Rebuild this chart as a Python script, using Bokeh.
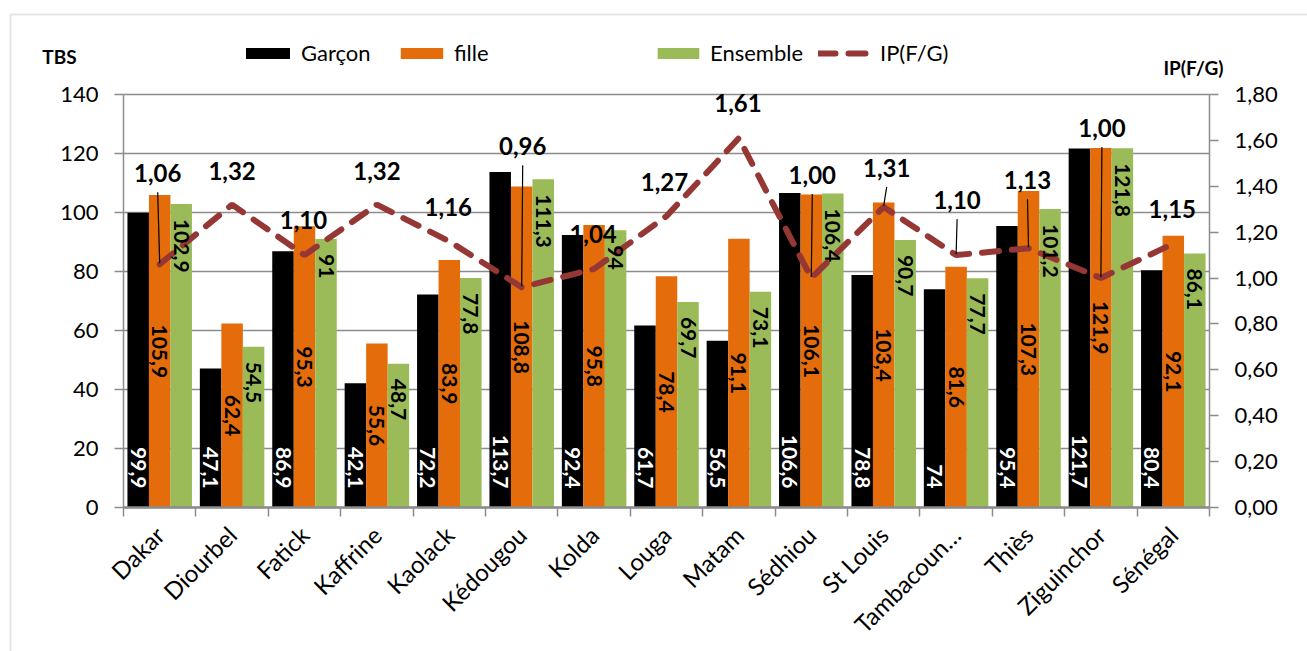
import math
from bokeh.plotting import figure
from bokeh.models import (Range1d, LinearAxis, FixedTicker, CustomJSTickFormatter,
                          ColumnDataSource, Legend, LegendItem, Label, BoxAnnotation)
from bokeh.core.properties import value
from bokeh.embed import file_html
from bokeh.resources import INLINE

# ---------------- data ----------------
regions = ["Dakar", "Diourbel", "Fatick", "Kaffrine", "Kaolack", "Kédougou", "Kolda",
           "Louga", "Matam", "Sédhiou", "St Louis", "Tambacoun…", "Thiès",
           "Ziguinchor", "Sénégal"]
garcon = [99.9, 47.1, 86.9, 42.1, 72.2, 113.7, 92.4, 61.7, 56.5, 106.6, 78.8, 74, 95.4, 121.7, 80.4]
fille = [105.9, 62.4, 95.3, 55.6, 83.9, 108.8, 95.8, 78.4, 91.1, 106.1, 103.4, 81.6, 107.3, 121.9, 92.1]
ensemble = [102.9, 54.5, 91, 48.7, 77.8, 111.3, 94, 69.7, 73.1, 106.4, 90.7, 77.7, 101.2, 121.8, 86.1]
ip = [1.06, 1.32, 1.10, 1.32, 1.16, 0.96, 1.04, 1.27, 1.61, 1.00, 1.31, 1.10, 1.13, 1.00, 1.15]
left_ticks = [0, 20, 40, 60, 80, 100, 120, 140]
right_ticks = [0.0, 0.2, 0.4, 0.6, 0.8, 1.0, 1.2, 1.4, 1.6, 1.8]
left_max, right_max = 140, 1.8

# ------------- label placement (pixels) -------------
ip_label_dy = [91, 34, 35, 34, 34, 141, 35, 34, 35, 103, 39, 55, 68, 150, 35]
ip_label_dx = [-2, 0, -1, 0, -1, 1, -1, -2, -1, 1, 3, 1, -1, 1, -1]
leader = [True, False, False, False, False, True, False, False, False, True, True, True, True, True, False]

# ---------------- layout (page pixels) ----------------
W, H = 1307, 651
PL, PT, PR, PB = 123, 94, 1209, 507     # plot area edges
n = len(regions)
px_x = (PR - PL) / n
py_l = (PB - PT) / left_max
py_r = (PB - PT) / right_max
bw = 21.5 / px_x

FONT = "Lato"
BLACK, ORANGE, GREEN, RED = "#000000", "#E46C0A", "#9BBB59", "#953735"
GRID = "#8c8c8c"

p = figure(width=W, height=H, output_backend="svg", toolbar_location=None,
           x_range=Range1d(-PL / px_x, (W - PL) / px_x),
           y_range=Range1d((PB - H) / py_l, PB / py_l),
           min_border=0, min_border_left=0, min_border_right=0,
           min_border_top=0, min_border_bottom=0,
           background_fill_color="white", border_fill_color="white")
p.outline_line_color = None
p.extra_y_ranges = {"ip": Range1d((PB - H) / py_r, PB / py_r)}
p.xgrid.visible = False
p.ygrid.visible = False

centers = [i + 0.5 for i in range(n)]

src = ColumnDataSource(dict(
    xc=centers,
    xg=[c - bw for c in centers],
    xf=centers,
    xe=[c + bw for c in centers],
    g=garcon, f=fille, e=ensemble, ip=ip,
    g_lab=[f"{v:g}".replace(".", ",") for v in garcon],
    f_lab=[f"{v:g}".replace(".", ",") for v in fille],
    e_lab=[f"{v:g}".replace(".", ",") for v in ensemble],
    ip_lab=[f"{v:.2f}".replace(".", ",") for v in ip],
    g_y=[19 / py_l for _ in garcon],
    f_y=[v / 2 for v in fille],
    e_y=[v - 15 / py_l for v in ensemble],
    ip_x=[c + dx / px_x for c, dx in zip(centers, ip_label_dx)],
    ip_y=[v + dy / py_r for v, dy in zip(ip, ip_label_dy)],
))

# ---------------- gridlines ----------------
p.segment(x0=[0] * len(left_ticks), x1=[n] * len(left_ticks), y0=left_ticks, y1=left_ticks,
          line_color=GRID, line_width=1.5)

# ---------------- axes (fixed inside the full-canvas frame) ----------------
yax = p.yaxis[0]
yax.ticker = FixedTicker(ticks=left_ticks)
yax.fixed_location = 0
yax.bounds = (0, left_max)

rax = LinearAxis(y_range_name="ip", ticker=FixedTicker(ticks=right_ticks),
                 formatter=CustomJSTickFormatter(code="return tick.toFixed(2).replace('.', ',');"),
                 fixed_location=n, bounds=(0, right_max))
p.add_layout(rax, "right")

xax = p.xaxis[0]
xax.ticker = FixedTicker(ticks=centers, minor_ticks=list(range(n + 1)))
xax.formatter = CustomJSTickFormatter(args=dict(labels=regions),
                                      code="return labels[Math.floor(tick)];")
xax.fixed_location = 0
xax.bounds = (0, n)
xax.major_label_orientation = math.pi / 4
xax.major_tick_out = 0
xax.major_tick_in = 0
xax.minor_tick_out = 9
xax.minor_tick_in = 0
xax.minor_tick_line_color = GRID
xax.minor_tick_line_width = 1.5
xax.major_label_standoff = 14

for ax in [yax, rax, xax]:
    ax.axis_line_color = GRID
    ax.axis_line_width = 1.5
    ax.major_tick_line_color = GRID
    ax.major_tick_line_width = 1.5
    ax.major_label_text_font = FONT
    ax.major_label_text_color = "black"
for ax in [yax, rax]:
    ax.major_tick_out = 9
    ax.major_tick_in = 0
    ax.minor_tick_line_color = None
    ax.major_label_text_font_size = "22px"
    ax.major_label_standoff = 16
xax.major_label_text_font_size = "24px"
xax.axis_line_width = 2.5

# ---------------- bars ----------------
rg = p.vbar(x="xg", top="g", width=bw, source=src, fill_color=BLACK, line_color=None)
rf = p.vbar(x="xf", top="f", width=bw, source=src, fill_color=ORANGE, line_color=None)
re_ = p.vbar(x="xe", top="e", width=bw, source=src, fill_color=GREEN, line_color=None)

# ---------------- IP line ----------------
rl = p.line(x="xc", y="ip", source=src, y_range_name="ip", line_color=RED,
            line_width=6, line_dash="17 13", line_cap="round")

# leader lines
lx0, ly0, lx1, ly1 = [], [], [], []
for i in range(n):
    if leader[i]:
        lx0.append(src.data["ip_x"][i])
        ly0.append(ip[i] + (ip_label_dy[i] - 19) / py_r)
        lx1.append(centers[i])
        ly1.append(ip[i] + 1 / py_r)
p.segment(x0=lx0, y0=ly0, x1=lx1, y1=ly1, y_range_name="ip", line_color="black", line_width=1.2)

# ---------------- data labels ----------------
common = dict(source=src, angle=-math.pi / 2, text_baseline="middle",
              text_font=value(FONT), text_font_style="bold", text_font_size="21px")
p.text(x="xg", y="g_y", text="g_lab", text_align="right", text_color="white", **common)
p.text(x="xf", y="f_y", text="f_lab", text_align="center", text_color="black", **common)
p.text(x="xe", y="e_y", text="e_lab", text_align="left", text_color="black", **common)

p.text(x="ip_x", y="ip_y", text="ip_lab", source=src, y_range_name="ip",
       text_align="center", text_baseline="middle", text_font=value(FONT),
       text_font_style="bold", text_font_size="24px", text_color="black")

# ---------------- axis titles ----------------
p.add_layout(Label(x=59, y=H - 56, x_units="screen", y_units="screen", text="TBS",
                   text_align="center", text_baseline="middle", text_font=FONT,
                   text_font_style="bold", text_font_size="19px", text_color="black"))
p.add_layout(Label(x=1193, y=H - 67, x_units="screen", y_units="screen", text="IP(F/G)",
                   text_align="center", text_baseline="middle", text_font=FONT,
                   text_font_style="bold", text_font_size="19px", text_color="black"))

# ---------------- legends ----------------
leg_specs = [("Garçon", rg, 240, 55), ("fille", rf, 395, 53),
             ("Ensemble", re_, 652, 52), ("IP(F/G)", rl, 818, 56)]
for lab, r, lx, gw in leg_specs:
    leg = Legend(items=[LegendItem(label=lab, renderers=[r])], location=(lx, H - 54 - 12),
                 orientation="horizontal", border_line_color=None,
                 background_fill_alpha=0, padding=0, margin=0, spacing=0,
                 glyph_width=gw, glyph_height=14, label_standoff=6,
                 label_text_font=FONT, label_text_font_size="22px",
                 label_text_color="black")
    p.add_layout(leg, "center")

# ---------------- chart border ----------------
p.add_layout(BoxAnnotation(left=10, right=3000, top=H - 14, bottom=-3000,
                           left_units="screen", right_units="screen",
                           top_units="screen", bottom_units="screen",
                           fill_alpha=0, fill_color=None, line_color="#a6a6a6",
                           line_width=2))

open("out.html", "w").write(file_html(p, INLINE))
